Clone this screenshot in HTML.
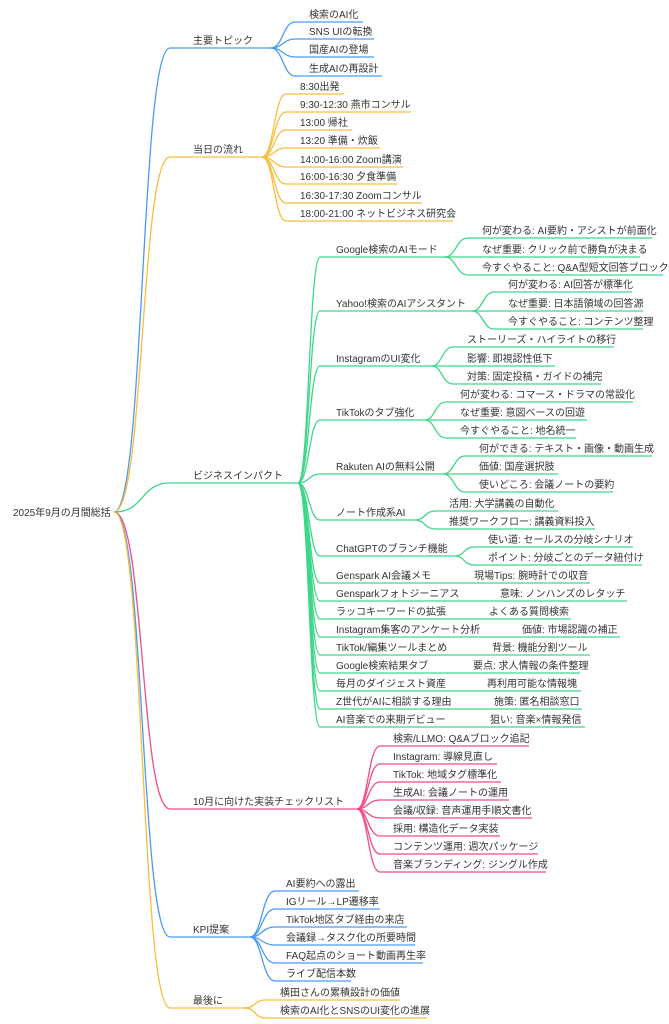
<!DOCTYPE html>
<html><head><meta charset="utf-8"><style>
html,body{margin:0;padding:0;background:#fff;}
svg{display:block;}
text{font-family:"Liberation Sans","Noto Sans CJK JP",sans-serif;font-size:10px;fill:#333;}
path{fill:none;stroke-width:1.3;}
.b{stroke:#4a9af5}.o{stroke:#f8bd3c}.g{stroke:#3fd68a}.p{stroke:#f24b8a}
</style></head><body>
<svg width="669" height="1024" viewBox="0 0 669 1024" xmlns="http://www.w3.org/2000/svg">
<text x="13" y="516">2025年9月の月間総括</text>
<!-- level 1 -->
<path class="b" d="M114,512 C145,512 140,48 170,48 L271,48"/>
<path class="o" d="M114,512 C145,512 140,157 170,157 L262,157"/>
<path class="g" d="M114,512 C145,512 140,483 170,483 L298,483"/>
<path class="p" d="M114,512 C145,512 140,809 170,809 L357,809"/>
<path class="b" d="M114,512 C145,512 140,937 170,937 L250,937"/>
<path class="o" d="M114,512 C145,512 140,1008 170,1008 L245,1008"/>
<text x="193" y="44">主要トピック</text>
<text x="193" y="153">当日の流れ</text>
<text x="193" y="479">ビジネスインパクト</text>
<text x="193" y="805">10月に向けた実装チェックリスト</text>
<text x="193" y="933">KPI提案</text>
<text x="193" y="1004">最後に</text>
<!-- 主要トピック -->
<path class="b" d="M271,48 C283,48 283,22 295,22 L363,22"/>
<path class="b" d="M271,48 C283,48 283,39 295,39 L374,39"/>
<path class="b" d="M271,48 C283,48 283,57 295,57 L374,57"/>
<path class="b" d="M271,48 C283,48 283,76 295,76 L382,76"/>
<text x="309" y="18">検索のAI化</text>
<text x="309" y="35">SNS UIの転換</text>
<text x="309" y="53">国産AIの登場</text>
<text x="309" y="72">生成AIの再設計</text>
<!-- 当日の流れ -->
<path class="o" d="M262,157 C274,157 274,94 286,94 L344,94"/>
<path class="o" d="M262,157 C274,157 274,112 286,112 L411,112"/>
<path class="o" d="M262,157 C274,157 274,130 286,130 L352,130"/>
<path class="o" d="M262,157 C274,157 274,148 286,148 L380,148"/>
<path class="o" d="M262,157 C274,157 274,167 286,167 L403,167"/>
<path class="o" d="M262,157 C274,157 274,184 286,184 L397,184"/>
<path class="o" d="M262,157 C274,157 274,203 286,203 L422,203"/>
<path class="o" d="M262,157 C274,157 274,221 286,221 L453,221"/>
<text x="300" y="90">8:30出発</text>
<text x="300" y="108">9:30-12:30 燕市コンサル</text>
<text x="300" y="126">13:00 帰社</text>
<text x="300" y="144">13:20 準備・炊飯</text>
<text x="300" y="163">14:00-16:00 Zoom講演</text>
<text x="300" y="180">16:00-16:30 夕食準備</text>
<text x="300" y="199">16:30-17:30 Zoomコンサル</text>
<text x="300" y="217">18:00-21:00 ネットビジネス研究会</text>
<!-- ビジネスインパクト -->
<g class="g">
<path class="g" d="M298,483 C309,483 309,257 320,257 L445,257"/>
<path class="g" d="M298,483 C309,483 309,311 320,311 L472,311"/>
<path class="g" d="M298,483 C309,483 309,366 320,366 L432,366"/>
<path class="g" d="M298,483 C309,483 309,420 320,420 L425,420"/>
<path class="g" d="M298,483 C309,483 309,474 320,474 L443,474"/>
<path class="g" d="M298,483 C309,483 309,520 320,520 L415,520"/>
<path class="g" d="M298,483 C309,483 309,556 320,556 L455,556"/>
<path class="g" d="M298,483 C309,483 309,583 320,583 L590,583"/>
<path class="g" d="M298,483 C309,483 309,601 320,601 L627,601"/>
<path class="g" d="M298,483 C309,483 309,619 320,619 L571,619"/>
<path class="g" d="M298,483 C309,483 309,637 320,637 L620,637"/>
<path class="g" d="M298,483 C309,483 309,655 320,655 L590,655"/>
<path class="g" d="M298,483 C309,483 309,673 320,673 L580,673"/>
<path class="g" d="M298,483 C309,483 309,691 320,691 L581,691"/>
<path class="g" d="M298,483 C309,483 309,709 320,709 L582,709"/>
<path class="g" d="M298,483 C309,483 309,727 320,727 L585,727"/>
<!-- grandchildren -->
<path class="g" d="M445,257 C456,257 456,238 468,238 L652,238"/>
<path class="g" d="M445,257 L640,257"/>
<path class="g" d="M445,257 C456,257 456,275 468,275 L663,275"/>
<path class="g" d="M472,311 C483,311 483,292 494,292 L632,292"/>
<path class="g" d="M472,311 L643,311"/>
<path class="g" d="M472,311 C483,311 483,329 494,329 L643,329"/>
<path class="g" d="M432,366 C442,366 442,347 453,347 L614,347"/>
<path class="g" d="M432,366 L555,366"/>
<path class="g" d="M432,366 C442,366 442,384 453,384 L601,384"/>
<path class="g" d="M425,420 C435,420 435,402 446,402 L633,402"/>
<path class="g" d="M425,420 L587,420"/>
<path class="g" d="M425,420 C435,420 435,438 446,438 L576,438"/>
<path class="g" d="M443,474 C454,474 454,456 465,456 L652,456"/>
<path class="g" d="M443,474 L558,474"/>
<path class="g" d="M443,474 C454,474 454,492 465,492 L613,492"/>
<path class="g" d="M415,520 C425,520 425,511 435,511 L558,511"/>
<path class="g" d="M415,520 C425,520 425,529 435,529 L595,529"/>
<path class="g" d="M455,556 C464,556 464,547 474,547 L633,547"/>
<path class="g" d="M455,556 C464,556 464,565 474,565 L642,565"/>
</g>
<text x="336" y="253">Google検索のAIモード</text>
<text x="336" y="307">Yahoo!検索のAIアシスタント</text>
<text x="336" y="362">InstagramのUI変化</text>
<text x="336" y="416">TikTokのタブ強化</text>
<text x="336" y="470">Rakuten AIの無料公開</text>
<text x="336" y="516">ノート作成系AI</text>
<text x="336" y="552">ChatGPTのブランチ機能</text>
<text x="336" y="579">Genspark AI会議メモ</text>
<text x="336" y="597">Gensparkフォトジーニアス</text>
<text x="336" y="615">ラッコキーワードの拡張</text>
<text x="336" y="633">Instagram集客のアンケート分析</text>
<text x="336" y="651">TikTok/編集ツールまとめ</text>
<text x="336" y="669">Google検索結果タブ</text>
<text x="336" y="687">毎月のダイジェスト資産</text>
<text x="336" y="705">Z世代がAIに相談する理由</text>
<text x="336" y="723">AI音楽での来期デビュー</text>
<text x="482" y="234">何が変わる: AI要約・アシストが前面化</text>
<text x="482" y="253">なぜ重要: クリック前で勝負が決まる</text>
<text x="482" y="271">今すぐやること: Q&amp;A型短文回答ブロック</text>
<text x="508" y="288">何が変わる: AI回答が標準化</text>
<text x="508" y="307">なぜ重要: 日本語領域の回答源</text>
<text x="508" y="325">今すぐやること: コンテンツ整理</text>
<text x="467" y="343">ストーリーズ・ハイライトの移行</text>
<text x="467" y="362">影響: 即視認性低下</text>
<text x="467" y="380">対策: 固定投稿・ガイドの補完</text>
<text x="460" y="398">何が変わる: コマース・ドラマの常設化</text>
<text x="460" y="416">なぜ重要: 意図ベースの回遊</text>
<text x="460" y="434">今すぐやること: 地名統一</text>
<text x="479" y="452">何ができる: テキスト・画像・動画生成</text>
<text x="479" y="470">価値: 国産選択肢</text>
<text x="479" y="488">使いどころ: 会議ノートの要約</text>
<text x="449" y="507">活用: 大学講義の自動化</text>
<text x="449" y="525">推奨ワークフロー: 講義資料投入</text>
<text x="488" y="543">使い道: セールスの分岐シナリオ</text>
<text x="488" y="561">ポイント: 分岐ごとのデータ紐付け</text>
<text x="474" y="579">現場Tips: 腕時計での収音</text>
<text x="500" y="597">意味: ノンハンズのレタッチ</text>
<text x="489" y="615">よくある質問検索</text>
<text x="522" y="633">価値: 市場認識の補正</text>
<text x="492" y="651">背景: 機能分割ツール</text>
<text x="473" y="669">要点: 求人情報の条件整理</text>
<text x="487" y="687">再利用可能な情報塊</text>
<text x="494" y="705">施策: 匿名相談窓口</text>
<text x="490" y="723">狙い: 音楽×情報発信</text>
<!-- 10月 -->
<path class="p" d="M357,809 C368,809 368,746 380,746 L529,746"/>
<path class="p" d="M357,809 C368,809 368,764 380,764 L497,764"/>
<path class="p" d="M357,809 C368,809 368,782 380,782 L501,782"/>
<path class="p" d="M357,809 C368,809 368,800 380,800 L509,800"/>
<path class="p" d="M357,809 C368,809 368,818 380,818 L532,818"/>
<path class="p" d="M357,809 C368,809 368,836 380,836 L500,836"/>
<path class="p" d="M357,809 C368,809 368,854 380,854 L538,854"/>
<path class="p" d="M357,809 C368,809 368,872 380,872 L546,872"/>
<text x="393" y="742">検索/LLMO: Q&amp;Aブロック追記</text>
<text x="393" y="760">Instagram: 導線見直し</text>
<text x="393" y="778">TikTok: 地域タグ標準化</text>
<text x="393" y="796">生成AI: 会議ノートの運用</text>
<text x="393" y="814">会議/収録: 音声運用手順文書化</text>
<text x="393" y="832">採用: 構造化データ実装</text>
<text x="393" y="850">コンテンツ運用: 週次パッケージ</text>
<text x="393" y="868">音楽ブランディング: ジングル作成</text>
<!-- KPI -->
<path class="b" d="M250,937 C262,937 262,891 275,891 L359,891"/>
<path class="b" d="M250,937 C262,937 262,909 275,909 L380,909"/>
<path class="b" d="M250,937 C262,937 262,927 275,927 L407,927"/>
<path class="b" d="M250,937 C262,937 262,945 275,945 L415,945"/>
<path class="b" d="M250,937 C262,937 262,963 275,963 L423,963"/>
<path class="b" d="M250,937 C262,937 262,981 275,981 L351,981"/>
<text x="286" y="887">AI要約への露出</text>
<text x="286" y="905">IGリール→LP遷移率</text>
<text x="286" y="923">TikTok地区タブ経由の来店</text>
<text x="286" y="941">会議録→タスク化の所要時間</text>
<text x="286" y="959">FAQ起点のショート動画再生率</text>
<text x="286" y="977">ライブ配信本数</text>
<!-- 最後に -->
<path class="o" d="M245,1008 C255,1008 255,1000 265,1000 L400,1000"/>
<path class="o" d="M245,1008 C255,1008 255,1018 265,1018 L427,1018"/>
<text x="280" y="996">横田さんの累積設計の価値</text>
<text x="280" y="1014">検索のAI化とSNSのUI変化の進展</text>
</svg>
</body></html>
